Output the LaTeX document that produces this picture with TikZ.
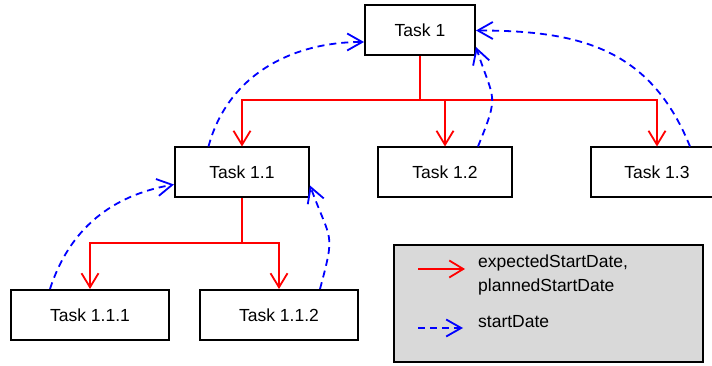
\documentclass[tikz,border=0pt]{standalone}
\usepackage{fontspec}
\setmainfont{Liberation Sans}
\usetikzlibrary{arrows.meta}
\tikzstyle{taskNode} = [rectangle, minimum height=50pt, text centered, line width=2pt, draw=black, fill=white, inner sep=0pt]
\tikzstyle{legNode} = [rectangle, minimum width=309pt, minimum height=117pt, line width=2pt, draw=black, fill=black!15]
\tikzstyle{eNode} = [anchor=west, align=left, inner sep=0pt]
\tikzstyle{arrowR} = [line width=1.8pt,-{Straight Barb[length=14pt,width=17pt,line width=1.8pt]},draw=red]
\tikzstyle{lineR} = [line width=1.8pt,draw=red]
\tikzstyle{arrowB} = [line width=1.8pt,dash pattern=on 7pt off 5pt,-{Straight Barb[length=15pt,width=17pt,line width=1.8pt]},draw=blue]

\begin{document}
\begin{tikzpicture}[x=1pt, y=1pt, font=\fontsize{17.5}{24}\selectfont]
        \clip (0,0) rectangle (712,366);
        \fill[white] (0,0) rectangle (712,366);
        \node (t1) [taskNode, minimum width=110pt] at (420,335.5) {Task 1};
        \node (t11) [taskNode, minimum width=134pt] at (242,193.5) {Task 1.1};
        \node (t12) [taskNode, minimum width=134pt] at (445,193.5) {Task 1.2};
        \node (t13) [taskNode, minimum width=132pt] at (657,193.5) {Task 1.3};
        \node (t111) [taskNode, minimum width=158pt] at (90,51) {Task 1.1.1};
        \node (t112) [taskNode, minimum width=158pt] at (279,51) {Task 1.1.2};
        \coordinate (j1) at (420,266);
        \coordinate (j11) at (242,123);

        % expected / planned start date
        \draw [lineR] (t1.south) -- (j1);
        \draw [lineR, line cap=rect] (t11.north |- j1) -- (t13.north |- j1);
        \draw [arrowR] (t11.north |- j1) -- (t11.north);
        \draw [arrowR] (t12.north |- j1) -- (t12.north);
        \draw [arrowR] (t13.north |- j1) -- (t13.north);
        \draw [lineR] (t11.south) -- (j11);
        \draw [lineR, line cap=rect] (t111.north |- j11) -- (t112.north |- j11);
        \draw [arrowR] (t111.north |- j11) -- (t111.north);
        \draw [arrowR] (t112.north |- j11) -- (t112.north);

        % start date
        \draw [arrowB] ([xshift=-33.5pt]t11.north) to[out=75, in=180] ([yshift=-11.5pt]t1.west);
        \draw [arrowB] ([xshift=33pt]t12.north) to[out=68, in=-72, looseness=1.5] ([yshift=-16.5pt]t1.east);
        \draw [arrowB] ([xshift=33pt]t13.north) to[out=112, in=0, looseness=1.1] (t1.east);
        \draw [arrowB] ([xshift=-40pt]t111.north) to[out=72, in=190] ([yshift=-12pt]t11.west);
        \draw [arrowB] ([xshift=41pt]t112.north) to[out=75, in=-70, looseness=1.5] ([yshift=-13pt]t11.east);

        % legend
        \node (legend) [legNode] at (548.5,62.5) {};
        \node (legR) [eNode] at (478,91) {expectedStartDate,\\plannedStartDate};
        \node (legB) [eNode] at (478,44) {startDate};
        \coordinate (r0) at (418,97);
        \coordinate (r1) at (465,97);
        \coordinate (b0) at (418,38);
        \coordinate (b1) at (463,38);
        \draw [arrowR] (r0) -- (r1);
        \draw [arrowB] (b0) -- (b1);
    \end{tikzpicture}
\end{document}
